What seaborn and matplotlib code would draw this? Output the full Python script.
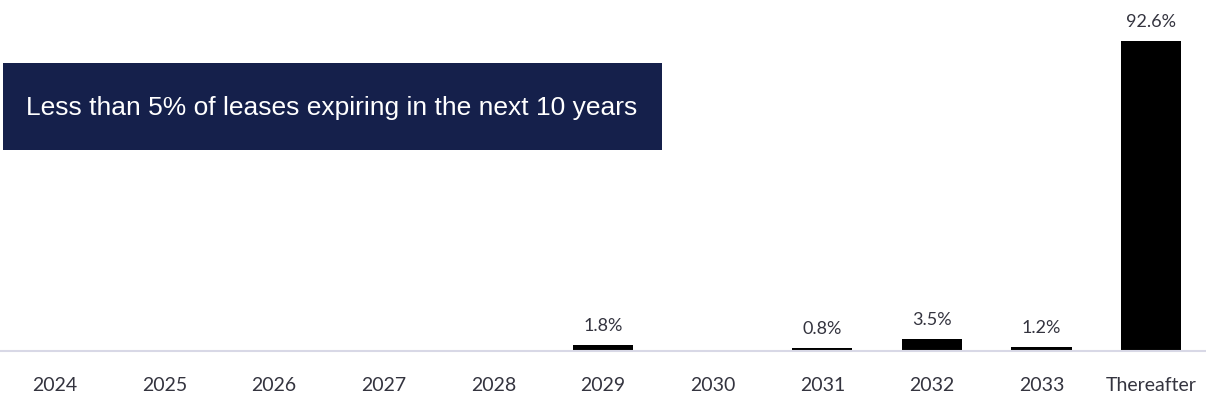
import matplotlib
matplotlib.use("Agg")
import matplotlib.pyplot as plt
import seaborn as sns
import pandas as pd
from matplotlib.patches import Rectangle

categories = ["2024", "2025", "2026", "2027", "2028", "2029", "2030", "2031", "2032", "2033", "Thereafter"]
values = [0.0, 0.0, 0.0, 0.0, 0.0, 1.8, 0.0, 0.8, 3.5, 1.2, 92.6]
banner_text = "Less than 5% of leases expiring in the next 10 years"

sns.set_theme(style="white")
plt.rcParams['font.family'] = ['Lato', 'DejaVu Sans']

df = pd.DataFrame({"period": categories, "pct": values})

fig = plt.figure(figsize=(12.06, 4.02), dpi=100)
ax = fig.add_axes([0.0, 1 - 352 / 402, 1.0, 352 / 402])

sns.barplot(data=df, x="period", y="pct", color="black", saturation=1,
            width=0.55, ax=ax, edgecolor="none")

ax.set_xlim(-0.5, 10.5)
ax.set_ylim(0, 105)
ax.set_xlabel("")
ax.set_ylabel("")
ax.set_yticks([])
for s in ["top", "left", "right"]:
    ax.spines[s].set_visible(False)
ax.spines["bottom"].set_color("#d8d8e6")
ax.spines["bottom"].set_linewidth(1.5)
ax.tick_params(axis="x", length=0, pad=18, labelsize=14, labelcolor="#34343f")

for i, v in enumerate(values):
    if v > 0:
        ax.text(i, v + 3.6, f"{v:.1f}%", ha="center", va="bottom",
                fontsize=13, color="#34343f")

rect = Rectangle((3 / 1206, 251 / 402), 659 / 1206, 87 / 402,
                 transform=fig.transFigure, facecolor="#15204b",
                 edgecolor="none", zorder=5)
fig.patches.append(rect)
fig.text(332 / 1206, 294.5 / 402, banner_text, ha="center", va="center",
         color="white", fontsize=19,
         family=['Liberation Sans', 'DejaVu Sans'],
         zorder=6)

fig.savefig("out.png", dpi=100)
